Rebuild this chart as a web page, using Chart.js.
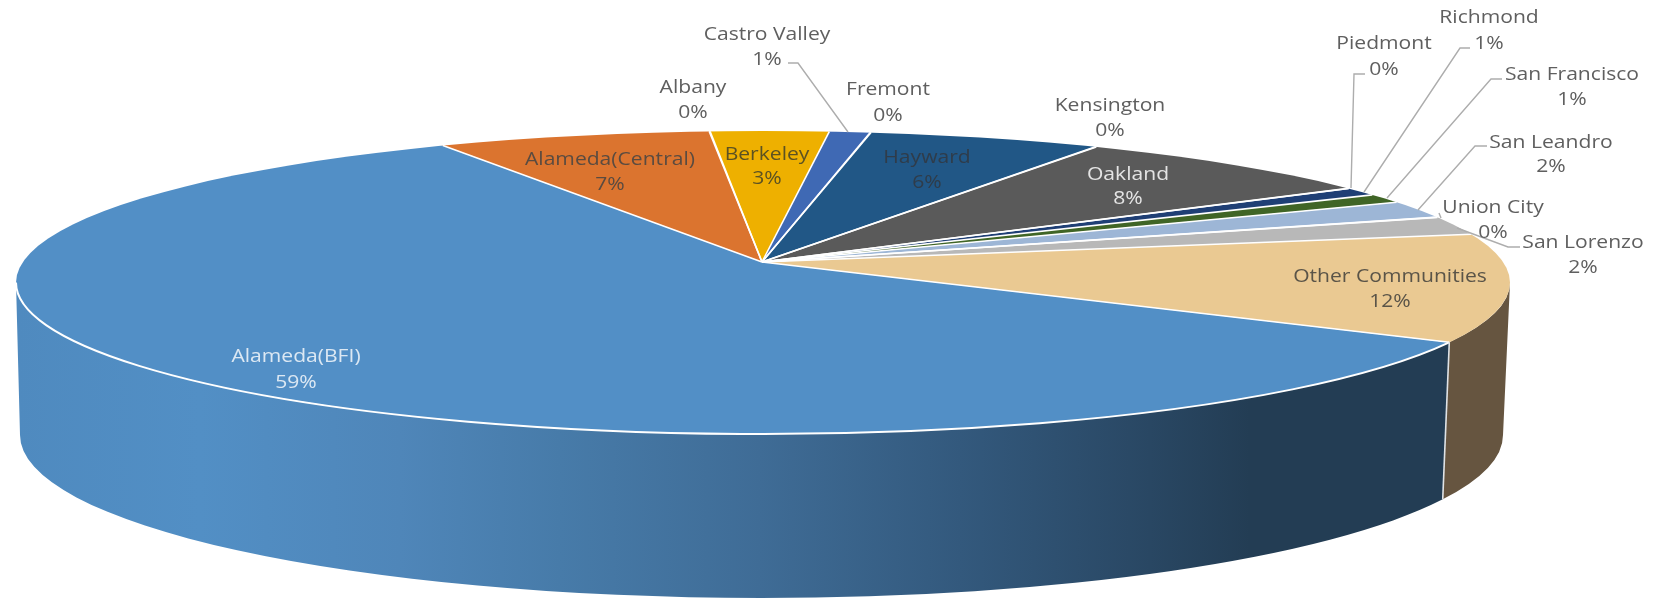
<!DOCTYPE html>
<html><head><meta charset="utf-8">
<style>html,body{margin:0;padding:0;background:#fff}#w{position:relative;width:1663px;height:598px;overflow:hidden}canvas{filter:blur(0.5px)}</style>
<script src="https://cdn.jsdelivr.net/npm/chart.js@4"></script>
</head><body><div id="w"><canvas id="c" width="1663" height="598"></canvas></div>
<script>
// Data
const categories = ["Alameda(BFI)","Alameda(Central)","Albany","Berkeley","Castro Valley","Fremont","Hayward","Kensington","Oakland","Piedmont","Richmond","San Francisco","San Leandro","Union City","San Lorenzo","Other Communities"];
const shares = [58.6,6.7,0.02,2.9,1.0,0.02,5.7,0.02,7.7,0.02,0.9,1.0,1.9,0.02,2.0,11.5];
const percentLabels = ["59%","7%","0%","3%","1%","0%","6%","0%","8%","0%","1%","1%","2%","0%","2%","12%"];
const sliceColors = ["#528fc6","#db742f","#ffffff","#eeb000","#3f69b4","#ffffff","#215786","#ffffff","#5a5a5a","#ffffff","#1f3f75","#406526","#9db6d6","#ffffff","#b8b8b8","#eac992"];

// Layout of the tilted disc (separate from the data)
const apex = {x:762,y:262}, tilt = 0.2, pieRadius = 900;
const topE = {cx:763,cy:282.5,rx:747,ry:151.5};
const lowE = {cx:761.5,cy:435,rx:741.5,ry:163};
const labelPos = [[296,357,383],[610,160,185],[693,88,113],[767,155,179],[767,35,60],[888,90,116],[927,158,183],[1110,106,131],[1128,175,199],[1384,44,70],[1489,18,44],[1572,75,100],[1551,143,167],[1493,208,233],[1583,243,268],[1390,277,302]];
const labelInk = {0:"#dce8f3",1:"#5a4b40",3:"#5c5222",6:"#2f3c4a",8:"#e4e4e4",15:"#5a5448"};
const leaders = [
 [[788,63],[798,63],[848,132]],
 [[1365,74],[1354,74],[1351,188]],
 [[1470,48],[1460,48],[1364,192]],
 [[1502,79],[1491,79],[1387,198]],
 [[1487,146],[1475,146],[1418,210]],
 [[1439,213],[1441,218]],
 [[1520,247],[1508,247],[1457,228]]
];
const wallStops = [[16,"#4f8abf"],[200,"#528fc5"],[400,"#4f86b9"],[560,"#477ba9"],[760,"#3f6c96"],[960,"#33597d"],[1150,"#294763"],[1250,"#233d54"],[1447,"#233d54"]];

function hit(a){ // where a slice edge, leaving the apex, meets the disc rim
  const dx=Math.cos(a), dy=tilt*Math.sin(a);
  const ox=(apex.x-topE.cx)/topE.rx, oy=(apex.y-topE.cy)/topE.ry, ux=dx/topE.rx, uy=dy/topE.ry;
  const A=ux*ux+uy*uy, B=2*(ox*ux+oy*uy), C=ox*ox+oy*oy-1;
  const s=(-B+Math.sqrt(B*B-4*A*C))/(2*A);
  const x=apex.x+dx*s, y=apex.y+dy*s;
  return {x,y,t:Math.atan2((y-topE.cy)/topE.ry,(x-topE.cx)/topE.rx)};
}
function ell(ctx,E,t){return [E.cx+E.rx*Math.cos(t),E.cy+E.ry*Math.sin(t)];}
function wideText(ctx,s,x,y){ctx.save();ctx.translate(x,y);ctx.scale(1.11,1);ctx.fillText(s,0,0);ctx.restore();}

const disc3d = {
  id:'disc3d',
  beforeDatasetsDraw(chart){
    const ctx=chart.ctx, arcs=chart.getDatasetMeta(0).data;
    arcs.forEach((arc,i)=>{
      let t1=hit(arc.startAngle).t, t2=hit(arc.endAngle).t;
      if(t2<t1) t2+=Math.PI*2;
      t1=Math.max(t1,0); t2=Math.min(t2,Math.PI);
      if(t2<=t1) return;
      ctx.save();
      ctx.beginPath();
      ctx.ellipse(topE.cx,topE.cy,topE.rx,topE.ry,0,t1,t2);
      ctx.ellipse(lowE.cx,lowE.cy,lowE.rx,lowE.ry,0,t2,t1,true);
      ctx.closePath();
      if(i===0){
        const x0=wallStops[0][0], x1=wallStops[wallStops.length-1][0];
        const g=ctx.createLinearGradient(x0,0,x1,0);
        wallStops.forEach(s=>g.addColorStop((s[0]-x0)/(x1-x0),s[1]));
        ctx.fillStyle=g;
      } else ctx.fillStyle="#665540";
      ctx.fill();
      ctx.restore();
    });
    ctx.save();
    ctx.beginPath();
    ctx.ellipse(topE.cx,topE.cy,topE.rx,topE.ry,0,0,Math.PI*2);
    ctx.clip();
    ctx.translate(apex.x,apex.y);
    ctx.scale(1,tilt);
    ctx.translate(-apex.x,-apex.y);
  },
  afterDatasetsDraw(chart){
    const ctx=chart.ctx, arcs=chart.getDatasetMeta(0).data;
    ctx.restore();
    // white edges between slices
    ctx.save();
    ctx.strokeStyle="#ffffff"; ctx.lineWidth=1.6;
    arcs.forEach(arc=>{
      const p=hit(arc.startAngle);
      ctx.beginPath(); ctx.moveTo(apex.x,apex.y); ctx.lineTo(p.x,p.y); ctx.stroke();
    });
    // white rim over the front of the first slice, and its wall seam
    const a0=arcs[0], t0=hit(a0.startAngle).t;
    ctx.lineWidth=2;
    ctx.beginPath(); ctx.ellipse(topE.cx,topE.cy,topE.rx,topE.ry,0,t0,Math.PI); ctx.stroke();
    const top=ell(ctx,topE,t0), bot=ell(ctx,lowE,t0);
    ctx.strokeStyle="#dfe3e6"; ctx.lineWidth=1.6;
    ctx.beginPath(); ctx.moveTo(top[0],top[1]); ctx.lineTo(bot[0],bot[1]); ctx.stroke();
    // leader lines
    ctx.strokeStyle="#adadad"; ctx.lineWidth=1.4;
    leaders.forEach(l=>{
      ctx.beginPath(); l.forEach((p,i)=>i?ctx.lineTo(p[0],p[1]):ctx.moveTo(p[0],p[1])); ctx.stroke();
    });
    // labels
    ctx.font='19px "Open Sans"'; ctx.textAlign='center'; ctx.textBaseline='middle';
    categories.forEach((name,i)=>{
      const p=labelPos[i];
      ctx.fillStyle=labelInk[i]||"#5f5f5f";
      wideText(ctx,name,p[0],p[1]);
      wideText(ctx,percentLabels[i],p[0],p[2]);
    });
    ctx.restore();
  }
};

new Chart(document.getElementById('c'),{
  type:'pie',
  data:{labels:categories,datasets:[{data:shares,backgroundColor:sliceColors,borderWidth:0,clip:false}]},
  options:{
    responsive:false,animation:false,
    rotation:120.3,radius:pieRadius,
    layout:{padding:{left:0,top:0,right:139,bottom:74}},
    plugins:{legend:{display:false},tooltip:{enabled:false}}
  },
  plugins:[disc3d]
});
</script></body></html>
